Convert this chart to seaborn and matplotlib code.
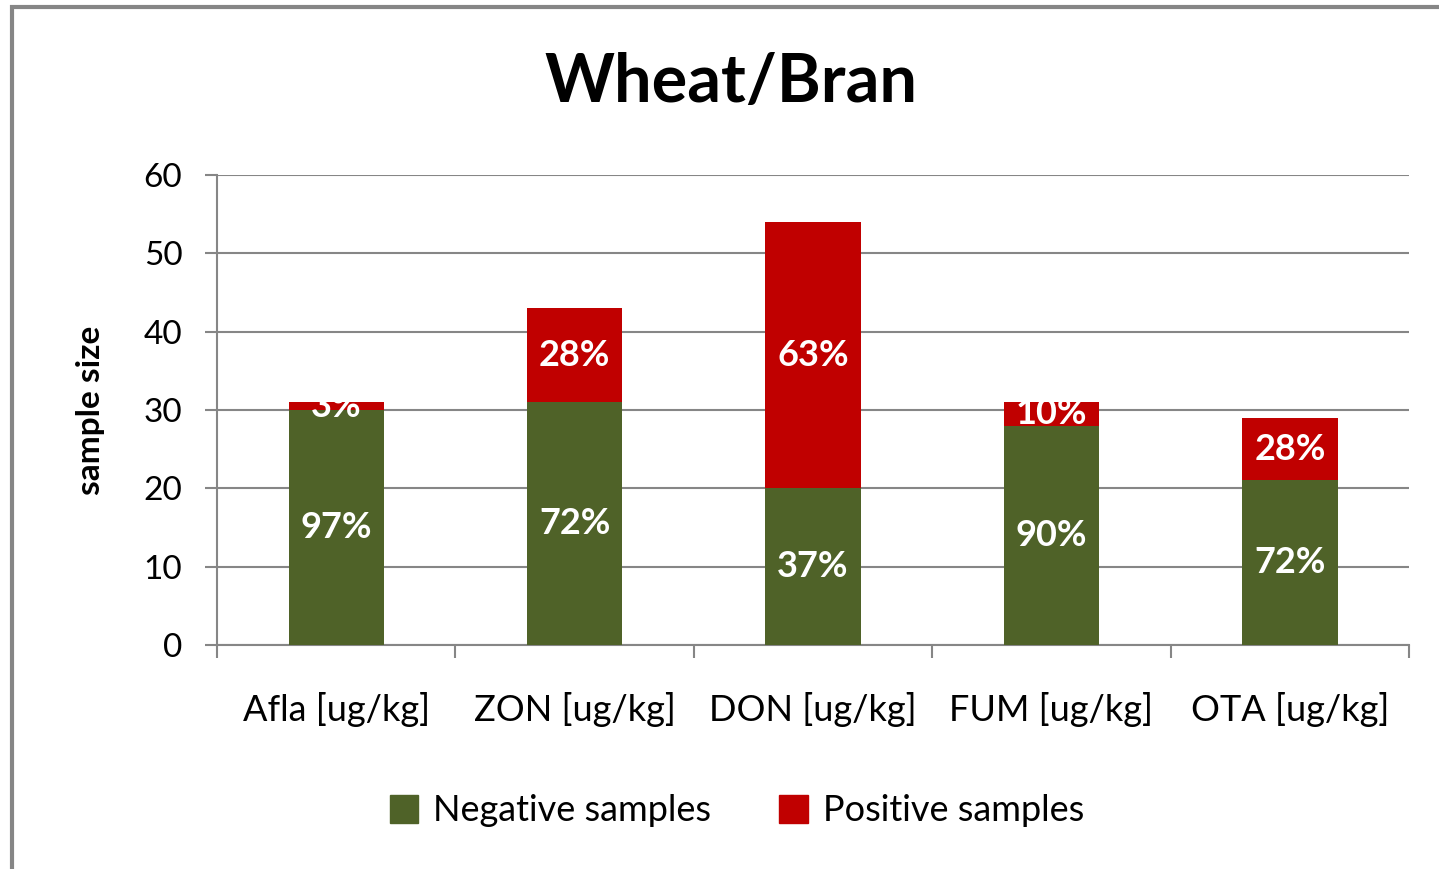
import numpy as np
import pandas as pd
import matplotlib.pyplot as plt
import seaborn as sns
from matplotlib.patches import Rectangle, Patch

# Data
categories = ["Afla [ug/kg]", "ZON [ug/kg]", "DON [ug/kg]", "FUM [ug/kg]", "OTA [ug/kg]"]
negative = [30, 31, 20, 28, 21]
positive = [1, 12, 34, 3, 8]

GREEN = "#4F6228"
RED = "#C00000"
GRID = "#868686"

sns.set_theme(style="white")
plt.rcParams["font.family"] = ["Lato", "DejaVu Sans"]
plt.rcParams["text.color"] = "black"

df = pd.DataFrame({"category": categories, "negative": negative, "positive": positive})
df["total"] = df["negative"] + df["positive"]

fig = plt.figure(figsize=(14.39, 8.69), dpi=100)
ax = fig.add_axes([0.1508, 0.2578, 0.9792 - 0.1508, 0.7986 - 0.2578])

# stacked bars: total in red, negative in green over it
sns.barplot(data=df, x="category", y="total", color=RED, width=0.4, saturation=1,
            linewidth=0, ax=ax, zorder=3)
sns.barplot(data=df, x="category", y="negative", color=GREEN, width=0.4, saturation=1,
            linewidth=0, ax=ax, zorder=3)

neg_pct = [f"{round(n / t * 100)}%" for n, t in zip(df["negative"], df["total"])]
pos_pct = [f"{round(p / t * 100)}%" for p, t in zip(df["positive"], df["total"])]

# label positions: middle of each segment
for i, (n, p) in enumerate(zip(df["negative"], df["positive"])):
    ax.text(i, n / 2, neg_pct[i], ha="center", va="center", color="white",
            fontsize=26, fontweight="bold", zorder=5)
    ax.text(i, n + p / 2, pos_pct[i], ha="center", va="center", color="white",
            fontsize=26, fontweight="bold", zorder=5)

ax.set_ylim(0, 60)
ax.set_xlim(-0.5, len(categories) - 0.5)
ax.set_yticks(np.arange(0, 61, 10))
ax.yaxis.grid(True, color=GRID, linewidth=1.5, zorder=0)
ax.set_axisbelow(True)

for s in ["top", "right"]:
    ax.spines[s].set_visible(False)
for s in ["left", "bottom"]:
    ax.spines[s].set_color(GRID)
    ax.spines[s].set_linewidth(1.5)

ax.tick_params(axis="y", which="major", left=True, length=9, width=1.5, color=GRID,
               pad=16, labelsize=24, labelcolor="black")
ax.tick_params(axis="x", which="major", bottom=False, length=0, pad=34,
               labelsize=26, labelcolor="black")
ax.set_xticks(np.arange(-0.5, len(categories)), minor=True)
ax.tick_params(axis="x", which="minor", bottom=True, length=9, width=1.5, color=GRID)

ax.set_xlabel("")
ax.set_ylabel("sample size", fontsize=24, fontweight="bold", labelpad=28, color="black")

fig.text(0.508, 0.905, "Wheat/Bran", ha="center", va="center", fontsize=48,
         fontweight="bold", color="black")

handles = [Patch(color=GREEN, label="Negative samples"), Patch(color=RED, label="Positive samples")]
leg = fig.legend(handles=handles, loc="center", bbox_to_anchor=(0.512, 0.067), ncol=2,
                 frameon=False, fontsize=26, handlelength=0.8, handleheight=0.8,
                 handletextpad=0.4, columnspacing=1.9)
for t in leg.get_texts():
    t.set_color("black")

# outer chart frame (only left and top edges are visible in the crop)
fig.patches.append(Rectangle((0.0083, -0.1), 1.2, 1.0919, transform=fig.transFigure,
                             fill=False, edgecolor=GRID, linewidth=3))

fig.savefig("out.png", dpi=100)
